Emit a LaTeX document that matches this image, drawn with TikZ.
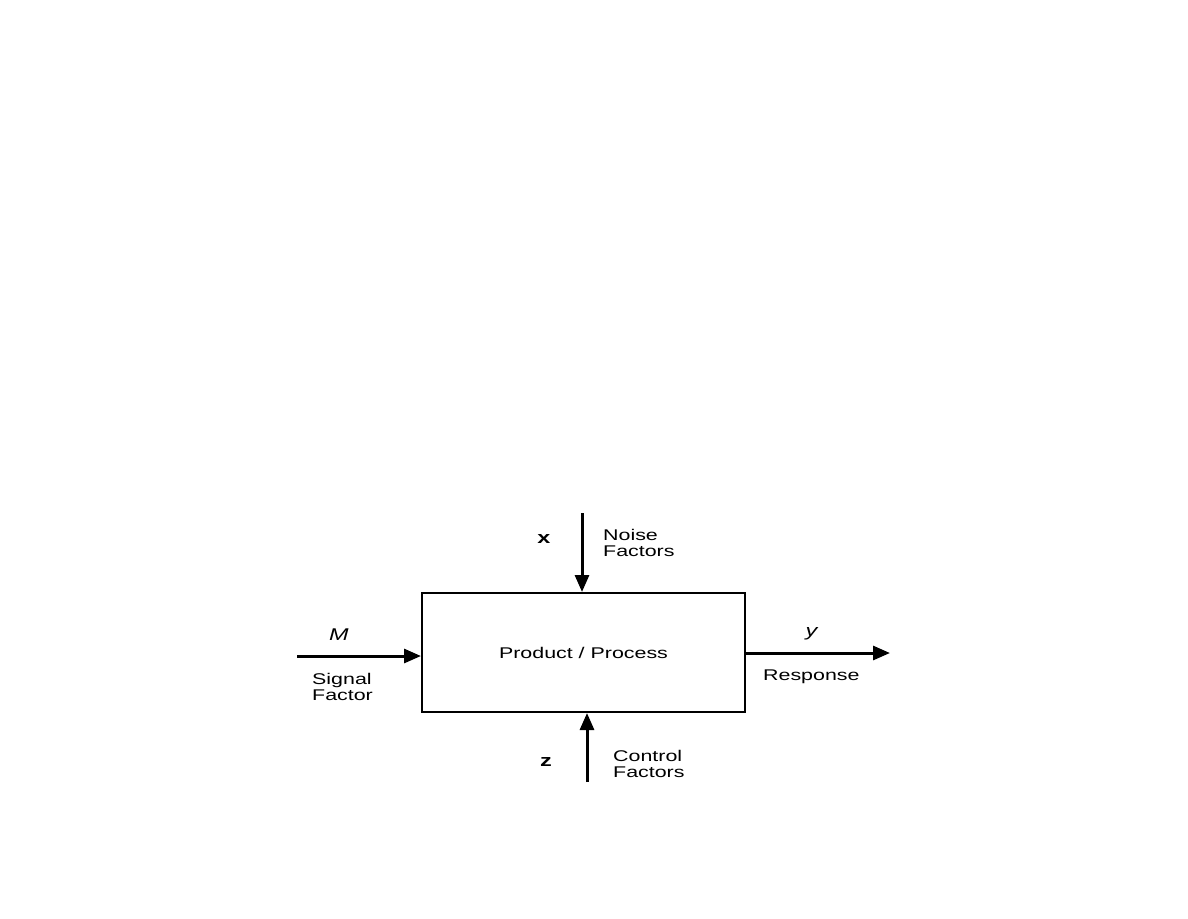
\documentclass[tikz,border=0pt]{standalone}
\usepackage{fontspec}
\setmainfont{Liberation Sans}[FakeStretch=1.38]
\usetikzlibrary{arrows.meta}
\tikzset{
  pfeil/.style={line width=3pt, -{Triangle[length=17pt,width=14pt]}},
  beschr/.style={anchor=west, align=left, inner sep=0pt, font=\fontsize{15.5}{16.5}\selectfont},
  symb/.style={inner sep=0pt, font=\fontsize{17}{17}\selectfont}
}
\begin{document}
\begin{tikzpicture}[x=1pt,y=-1pt]
		\useasboundingbox (0,0) rectangle (1188,918);
		
		% ----- Block -----
		\node[draw, line width=2pt, minimum width=323pt, minimum height=119pt, inner sep=0pt,
		      font=\fontsize{15.5}{16.5}\selectfont] (block) at (583.5,652.5) {Product / Process};
		
		% Enden der Pfeile
		\coordinate (noise) at (582,513);
		\coordinate (control) at (587,782);
		\coordinate (signal) at (297,656);
		\coordinate (resp) at (890,653);
		
		% Pfeile
		\draw[pfeil] (noise) -- (noise |- block.north);
		\draw[pfeil] (control) -- (control |- block.south);
		\draw[pfeil] (signal) -- (signal -| block.west);
		\draw[pfeil] (resp -| block.east) -- (resp);
		
		% Symbole
		\node[symb] (xsym) at (544,539) {\textbf{x}};
		\node[symb] (zsym) at (546,762) {\textbf{z}};
		\node[symb] (msym) at (339,635) {\textit{M}};
		\node[symb] (ysym) at (812,634) {\textit{y}};
		
		% Beschriftung
		\node[beschr] (noiselab) at (603,543) {Noise\\Factors};
		\node[beschr] (controllab) at (613,764) {Control\\Factors};
		\node[beschr] (signallab) at (312,687) {Signal\\Factor};
		\node[beschr] (resplab) at (763,677) {Response};
		
	\end{tikzpicture}
\end{document}
